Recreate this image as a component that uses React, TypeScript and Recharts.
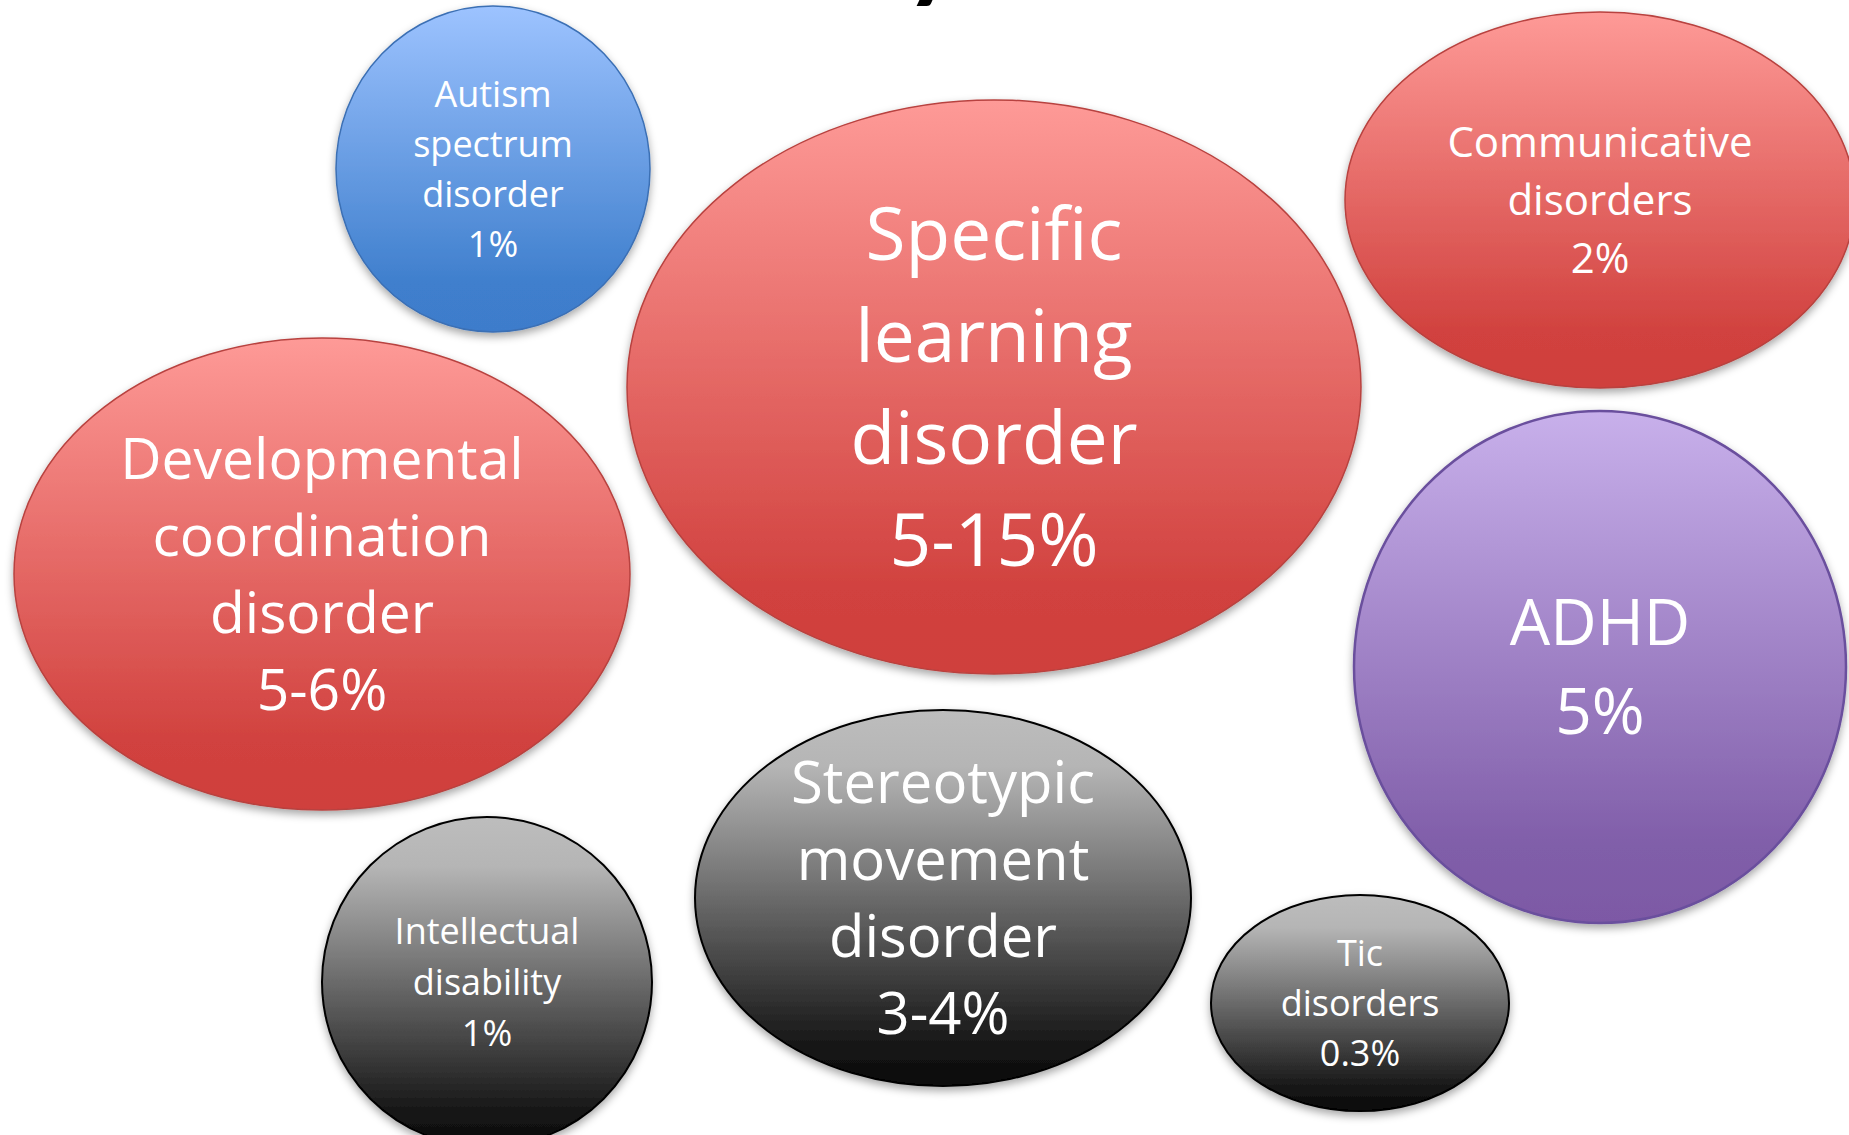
import React from 'react'
import { ScatterChart, Scatter, XAxis, YAxis, Customized } from 'recharts'

// bubble text, one entry per bubble
const labels = [
  ['Autism', 'spectrum', 'disorder'],
  ['Specific', 'learning', 'disorder'],
  ['Communicative', 'disorders'],
  ['Developmental', 'coordination', 'disorder'],
  ['ADHD'],
  ['Stereotypic', 'movement', 'disorder'],
  ['Intellectual', 'disability'],
  ['Tic', 'disorders'],
]
const prevalence = ['1%', '5-15%', '2%', '5-6%', '5%', '3-4%', '1%', '0.3%']

// bubble centres and half-extents in chart units (1 unit = 1 px)
const centerX = [493, 994, 1600, 322, 1600, 943, 487, 1360]
const centerY = [169, 387, 200, 574, 667, 898, 982, 1003]
const radiusX = [157, 367, 255, 308, 246, 248, 165, 149]
const radiusY = [163, 287, 188, 236, 256, 188, 165, 108]
const groups = ['blue', 'red', 'red', 'red', 'purple', 'gray', 'gray', 'gray']

const W = 1849
const H = 1135

const fontSizes = [36, 73, 42, 57, 64, 58, 36, 36]
const lineHeights = [50, 102, 58, 77, 89, 77, 51, 50]

const palette: Record<string, { stops: [number, string][]; stroke: string; strokeWidth: number }> = {
  blue: {
    stops: [[0, '#9dc3ff'], [0.85, '#3f7fcd'], [1, '#3e7ccb']],
    stroke: '#3b6fb4',
    strokeWidth: 1.5,
  },
  red: {
    stops: [[0, '#fe9a97'], [0.85, '#d1423f'], [1, '#cf3f3c']],
    stroke: '#b8423f',
    strokeWidth: 1.5,
  },
  purple: {
    stops: [[0, '#c8b0eb'], [0.85, '#805ea9'], [1, '#7d59a5']],
    stroke: '#6a4f9d',
    strokeWidth: 2.5,
  },
  gray: {
    stops: [[0, '#bdbdbd'], [0.15, '#b5b5b5'], [0.9, '#151515'], [1, '#0b0b0b']],
    stroke: '#000000',
    strokeWidth: 2,
  },
}

const data = labels.map((lines, i) => ({
  x: centerX[i],
  y: centerY[i],
  rx: radiusX[i],
  ry: radiusY[i],
  group: groups[i],
  lines: [...lines, prevalence[i]],
  fontSize: fontSizes[i],
  lineHeight: lineHeights[i],
  id: i,
}))

function Bubble(props: any) {
  const { cx, cy, payload } = props
  const style = palette[payload.group]
  const gid = `bubble-grad-${payload.id}`
  const n = payload.lines.length
  const capH = payload.fontSize * 0.714
  const firstBase = cy - ((n - 1) * payload.lineHeight) / 2 + capH / 2
  return (
    <g>
      <defs>
        <linearGradient id={gid} x1="0" y1="0" x2="0" y2="1">
          {style.stops.map(([o, c]) => (
            <stop key={o} offset={o} stopColor={c} />
          ))}
        </linearGradient>
      </defs>
      <ellipse
        cx={cx}
        cy={cy}
        rx={payload.rx}
        ry={payload.ry}
        fill={`url(#${gid})`}
        stroke={style.stroke}
        strokeWidth={style.strokeWidth}
        filter="url(#bubble-shadow)"
      />
      {payload.lines.map((t: string, k: number) => (
        <text
          key={k}
          x={cx}
          y={firstBase + k * payload.lineHeight}
          textAnchor="middle"
          fill="#ffffff"
          fontFamily="'Open Sans', sans-serif"
          fontSize={payload.fontSize}
        >
          {t}
        </text>
      ))}
    </g>
  )
}

// shadow filter plus the clipped tail of the slide title above the canvas
function Decorations() {
  return (
    <g>
      <defs>
        <filter id="bubble-shadow" x="-10%" y="-10%" width="120%" height="125%">
          <feDropShadow dx="0" dy="4" stdDeviation="4" floodColor="#000" floodOpacity="0.35" />
        </filter>
      </defs>
      <text x={904} y={-12} fontSize={110} fontWeight={700} fontFamily="Lato, sans-serif" fill="#000">
        y
      </text>
    </g>
  )
}

export default function App() {
  return (
    <div style={{ position: 'absolute', left: 0, top: 0, width: W, height: H, background: '#fff' }}>
      <ScatterChart width={W} height={H} margin={{ top: 0, right: 0, bottom: 0, left: 0 }}>
        <Customized component={Decorations} />
        <XAxis type="number" dataKey="x" domain={[0, W]} hide />
        <YAxis type="number" dataKey="y" domain={[0, H]} reversed hide />
        <Scatter data={data} shape={Bubble} isAnimationActive={false} />
      </ScatterChart>
    </div>
  )
}
